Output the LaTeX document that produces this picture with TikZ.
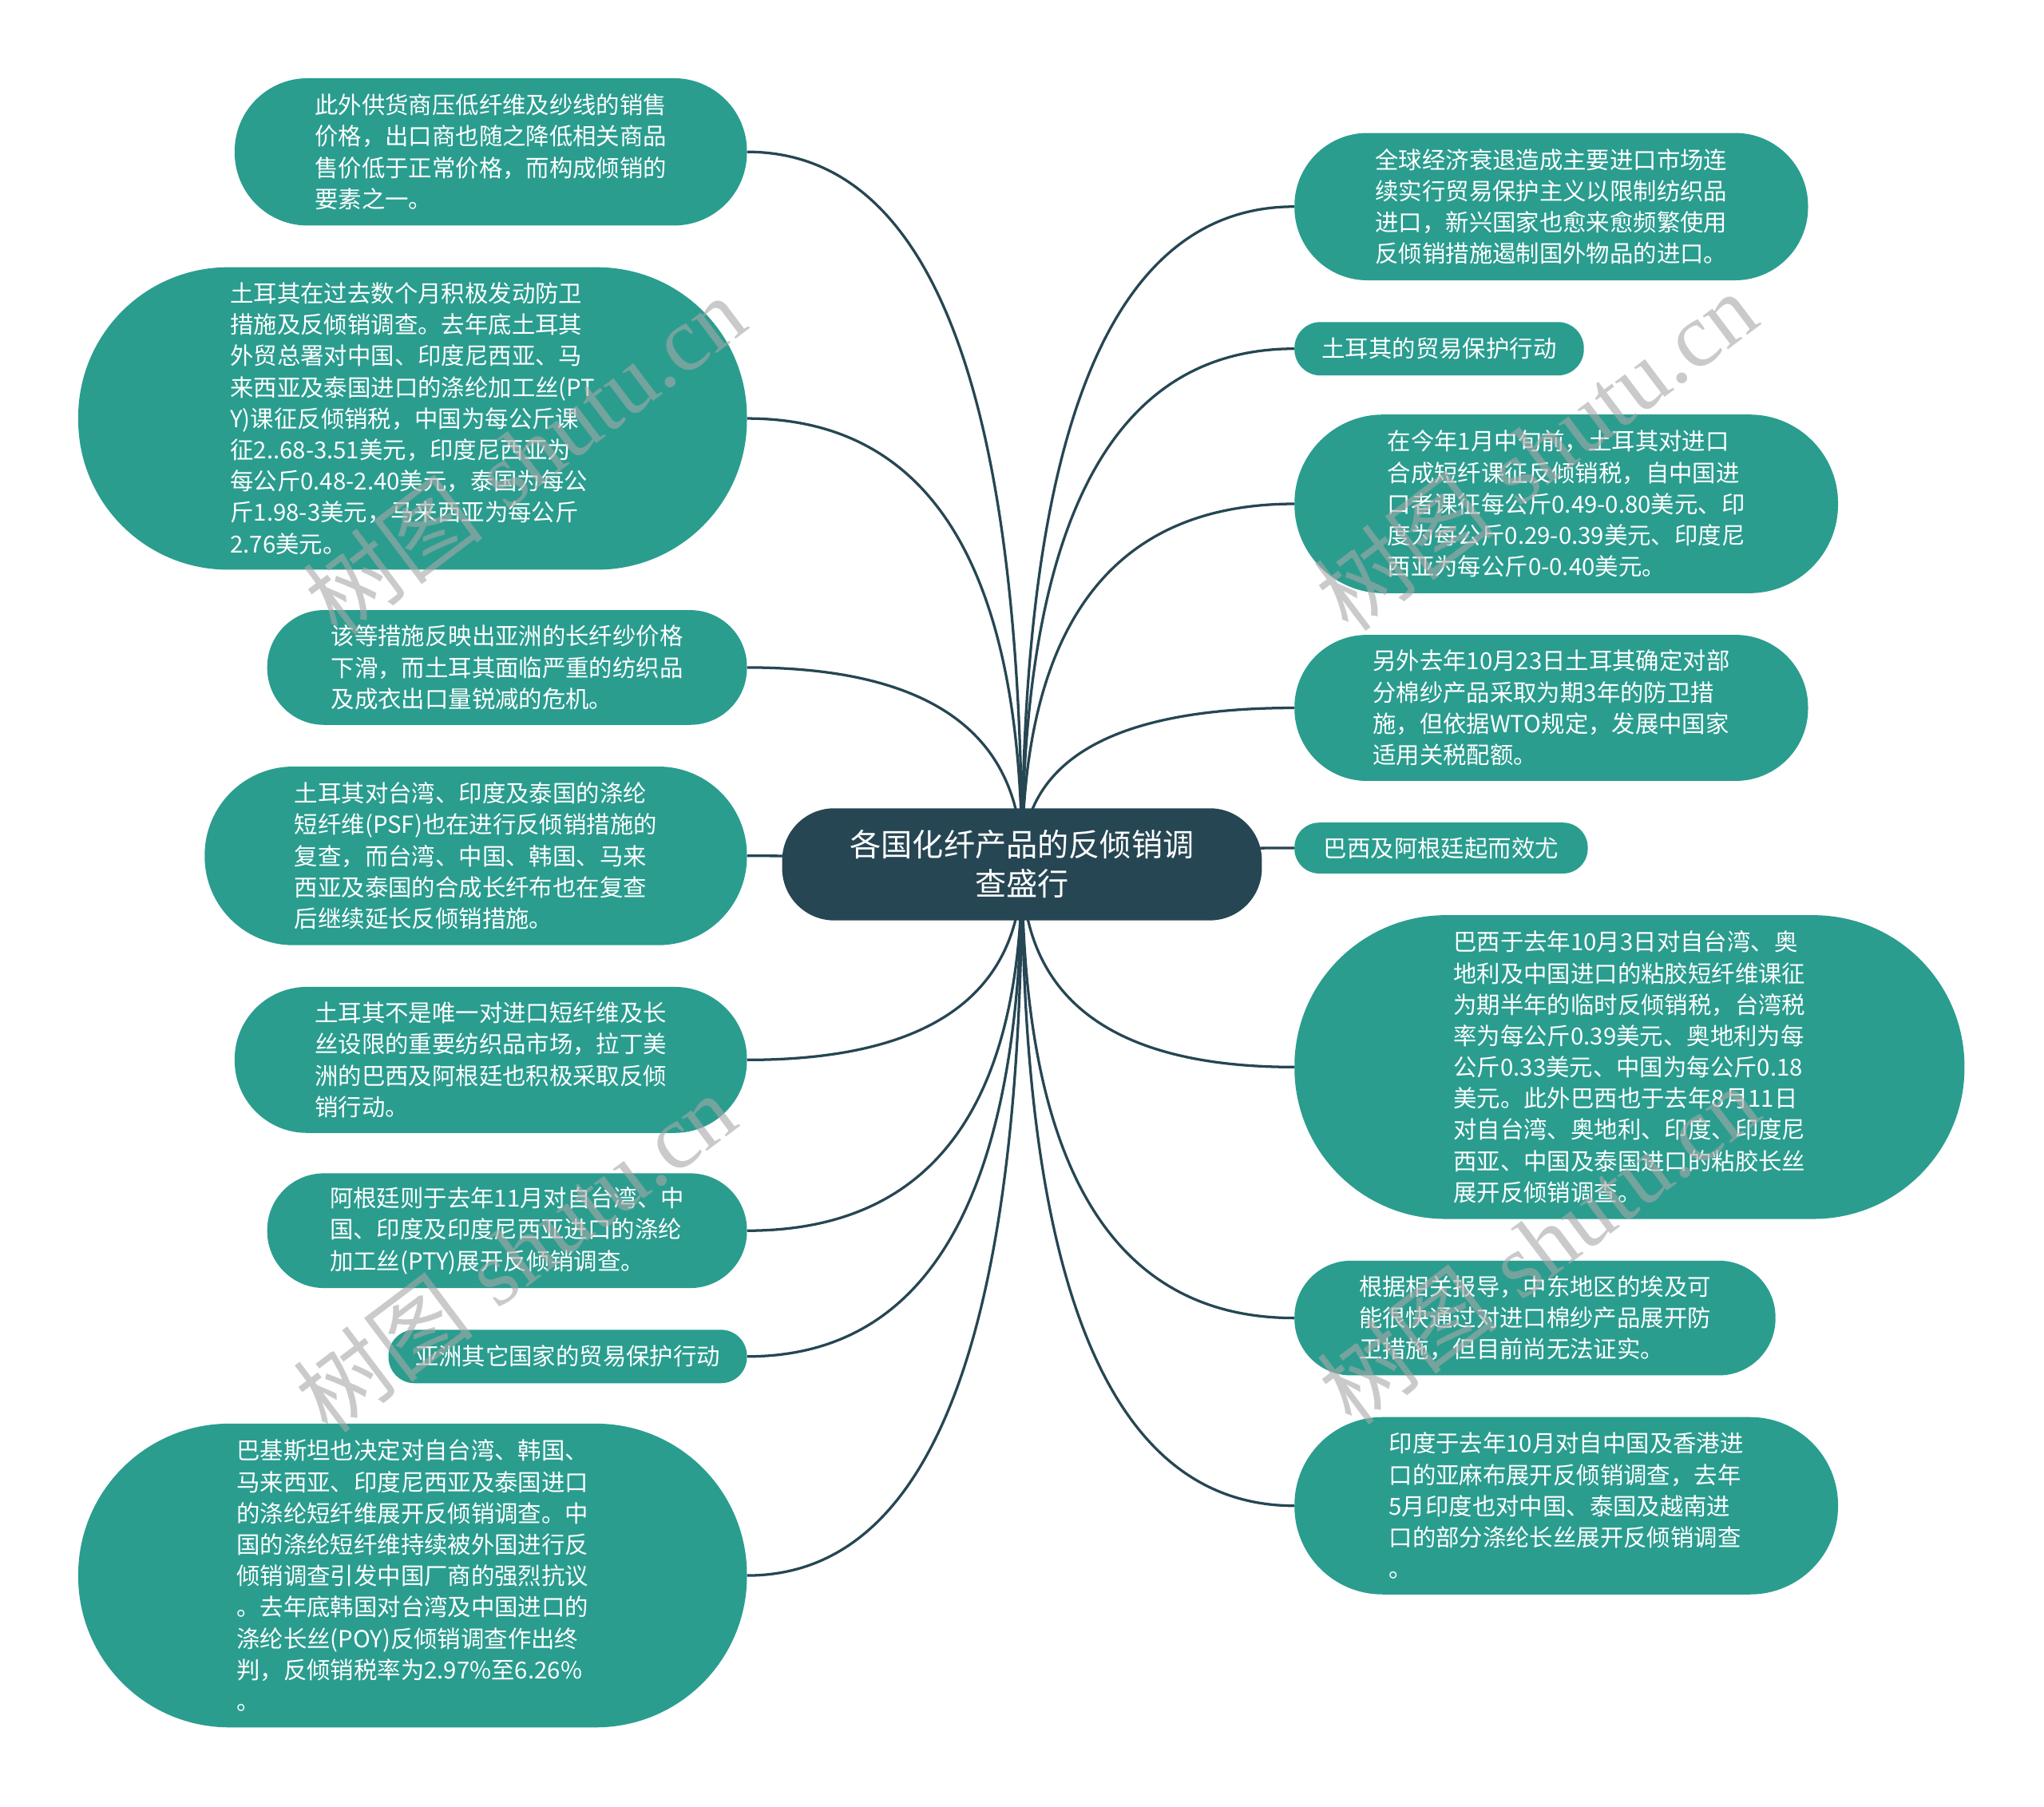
\documentclass[tikz,border=0pt]{standalone}
\usepackage{fontspec}
\newfontfamily\cjk{Noto Sans CJK SC}
\newfontfamily\wmserif{Liberation Serif}
\usetikzlibrary{calc,backgrounds}
\definecolor{teal1}{HTML}{2A9D8F}
\definecolor{darkc}{HTML}{264653}
\definecolor{wmgray}{HTML}{A8A8A8}
\begin{document}
\begin{tikzpicture}[x=1pt,y=-1pt,
  leaf/.style={rectangle, fill=teal1, text=white, align=left, inner sep=0pt,
    font=\cjk\fontsize{18}{24}\selectfont},
  root/.style={rectangle, fill=darkc, text=white, align=center, inner sep=0pt,
    font=\cjk\fontsize{24}{30}\selectfont, minimum width=368pt, minimum height=86pt,
    rounded corners=40pt},
  link/.style={draw=darkc, line width=2pt},
  qc/.style={to path={.. controls ($(\tikztostart)!0.6667!(\tikztostart |- \tikztotarget)$)
      and ($(\tikztotarget)!0.6667!(\tikztostart |- \tikztotarget)$) .. (\tikztotarget)}},
  wmark/.style={text=wmgray, text opacity=0.6, rotate=37, inner sep=0pt,
    font=\fontsize{70}{70}\selectfont}
]
\useasboundingbox (0,0) rectangle (1568,1386);

% centre
\node[root] (c) at (784,663) {各国化纤产品的反倾销调\\查盛行};

% left
\node[leaf, minimum width=393pt, minimum height=113pt, rounded corners=56pt] (l1) at (376.5,116.5)
  {此外供货商压低纤维及纱线的销售\\价格，出口商也随之降低相关商品\\售价低于正常价格，而构成倾销的\\要素之一。};
\node[leaf, minimum width=513pt, minimum height=232pt, rounded corners=115pt] (l2) at (316.5,321)
  {土耳其在过去数个月积极发动防卫\\措施及反倾销调查。去年底土耳其\\外贸总署对中国、印度尼西亚、马\\来西亚及泰国进口的涤纶加工丝(PT\\Y)课征反倾销税，中国为每公斤课\\征2..68-3.51美元，印度尼西亚为\\每公斤0.48-2.40美元，泰国为每公\\斤1.98-3美元，马来西亚为每公斤\\2.76美元。};
\node[leaf, minimum width=368pt, minimum height=88pt, rounded corners=43.5pt] (l3) at (389,512)
  {该等措施反映出亚洲的长纤纱价格\\下滑，而土耳其面临严重的纺织品\\及成衣出口量锐减的危机。};
\node[leaf, minimum width=416pt, minimum height=137pt, rounded corners=68pt] (l4) at (365,656.5)
  {土耳其对台湾、印度及泰国的涤纶\\短纤维(PSF)也在进行反倾销措施的\\复查，而台湾、中国、韩国、马来\\西亚及泰国的合成长纤布也在复查\\后继续延长反倾销措施。};
\node[leaf, minimum width=393pt, minimum height=112pt, rounded corners=55.5pt] (l5) at (376.5,813)
  {土耳其不是唯一对进口短纤维及长\\丝设限的重要纺织品市场，拉丁美\\洲的巴西及阿根廷也积极采取反倾\\销行动。};
\node[leaf, minimum width=368pt, minimum height=88pt, rounded corners=43.5pt] (l6) at (389,944)
  {阿根廷则于去年11月对自台湾、中\\国、印度及印度尼西亚进口的涤纶\\加工丝(PTY)展开反倾销调查。};
\node[leaf, minimum width=275pt, minimum height=41pt, rounded corners=20pt] (l7) at (435.5,1040.5)
  {亚洲其它国家的贸易保护行动};
\node[leaf, minimum width=513pt, minimum height=233pt, rounded corners=116pt] (l8) at (316.5,1208.5)
  {巴基斯坦也决定对自台湾、韩国、\\马来西亚、印度尼西亚及泰国进口\\的涤纶短纤维展开反倾销调查。中\\国的涤纶短纤维持续被外国进行反\\倾销调查引发中国厂商的强烈抗议\\。去年底韩国对台湾及中国进口的\\涤纶长丝(POY)反倾销调查作出终\\判，反倾销税率为2.97\%至6.26\%\\。};

% right
\node[leaf, minimum width=394pt, minimum height=113pt, rounded corners=56pt] (r1) at (1190,158.5)
  {全球经济衰退造成主要进口市场连\\续实行贸易保护主义以限制纺织品\\进口，新兴国家也愈来愈频繁使用\\反倾销措施遏制国外物品的进口。};
\node[leaf, minimum width=222pt, minimum height=41pt, rounded corners=20pt] (r2) at (1104,267.5)
  {土耳其的贸易保护行动};
\node[leaf, minimum width=417pt, minimum height=137pt, rounded corners=68pt] (r3) at (1201.5,386.5)
  {在今年1月中旬前，土耳其对进口\\合成短纤课征反倾销税，自中国进\\口者课征每公斤0.49-0.80美元、印\\度为每公斤0.29-0.39美元、印度尼\\西亚为每公斤0-0.40美元。};
\node[leaf, minimum width=394pt, minimum height=112pt, rounded corners=55.5pt] (r4) at (1190,543)
  {另外去年10月23日土耳其确定对部\\分棉纱产品采取为期3年的防卫措\\施，但依据WTO规定，发展中国家\\适用关税配额。};
\node[leaf, minimum width=225pt, minimum height=39pt, rounded corners=19pt] (r5) at (1105.5,650.5)
  {巴西及阿根廷起而效尤};
\node[leaf, minimum width=514pt, minimum height=233pt, rounded corners=116pt] (r6) at (1250,818.5)
  {巴西于去年10月3日对自台湾、奥\\地利及中国进口的粘胶短纤维课征\\为期半年的临时反倾销税，台湾税\\率为每公斤0.39美元、奥地利为每\\公斤0.33美元、中国为每公斤0.18\\美元。此外巴西也于去年8月11日\\对自台湾、奥地利、印度、印度尼\\西亚、中国及泰国进口的粘胶长丝\\展开反倾销调查。};
\node[leaf, minimum width=369pt, minimum height=88pt, rounded corners=43.5pt] (r7) at (1177.5,1011)
  {根据相关报导，中东地区的埃及可\\能很快通过对进口棉纱产品展开防\\卫措施，但目前尚无法证实。};
\node[leaf, minimum width=417pt, minimum height=136pt, rounded corners=67.5pt] (r8) at (1201.5,1155)
  {印度于去年10月对自中国及香港进\\口的亚麻布展开反倾销调查，去年\\5月印度也对中国、泰国及越南进\\口的部分涤纶长丝展开反倾销调查\\。};

% connectors
\begin{scope}[on background layer]
  \fill[white] (0,0) rectangle (1568,1386);
  \foreach \t in {l1,l2,l3,l4,l5,l6,l7,l8}
    \draw[link] (c.center) to[qc] (\t.east);
  \foreach \t in {r1,r2,r3,r4,r5,r6,r7,r8}
    \draw[link] (c.center) to[qc] (\t.west);
\end{scope}

% watermarks
\node[wmark] (w1) at (402,349) {{\cjk 树图}\ {\wmserif shutu.cn}};
\node[wmark] (w2) at (1178,346) {{\cjk 树图}\ {\wmserif shutu.cn}};
\node[wmark] (w3) at (395,961) {{\cjk 树图}\ {\wmserif shutu.cn}};
\node[wmark] (w4) at (1180,955) {{\cjk 树图}\ {\wmserif shutu.cn}};
\end{tikzpicture}
\end{document}
